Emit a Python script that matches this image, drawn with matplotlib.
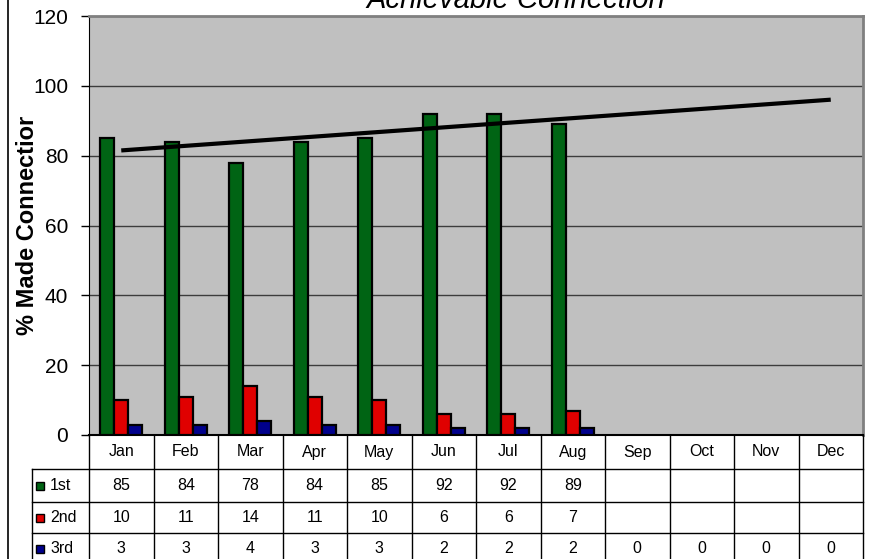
import numpy as np
import matplotlib
matplotlib.use("Agg")
import matplotlib.pyplot as plt
from matplotlib.lines import Line2D
from matplotlib.patches import Rectangle

plt.rcParams['font.family'] = ['Liberation Sans', 'DejaVu Sans']

# data
months = ["Jan", "Feb", "Mar", "Apr", "May", "Jun", "Jul", "Aug", "Sep", "Oct", "Nov", "Dec"]
first = [85, 84, 78, 84, 85, 92, 92, 89, None, None, None, None]
second = [10, 11, 14, 11, 10, 6, 6, 7, None, None, None, None]
third = [3, 3, 4, 3, 3, 2, 2, 2, 0, 0, 0, 0]
series_names = ["1st", "2nd", "3rd"]
series_colors = ["#006414", "#e00000", "#00008c"]
yticks = [0, 20, 40, 60, 80, 100, 120]

W, H = 870, 559
fig = plt.figure(figsize=(W / 100, H / 100), dpi=100)

# main plot area (pixel box 89..863 x 16..435)
ax = fig.add_axes([89 / W, 1 - 435 / H, (863 - 89) / W, (435 - 16) / H])
ax.set_facecolor("#c0c0c0")
x = np.arange(len(months))
bw = 0.217
all_series = [first, second, third]
for i, vals in enumerate(all_series):
    xs = [x[j] + (i - 1) * bw for j in range(len(vals)) if vals[j] is not None and vals[j] > 0]
    hs = [v for v in vals if v is not None and v > 0]
    ax.bar(xs, hs, width=bw, color=series_colors[i], edgecolor="black", linewidth=1.6, zorder=3)

# linear trend of the 1st series, extended to December
known = [(j, v) for j, v in enumerate(first) if v is not None]
kx = np.array([k[0] for k in known])
ky = np.array([k[1] for k in known])
slope, icpt = np.polyfit(kx, ky, 1)
ax.plot([x[0], x[-1]], [icpt + slope * x[0], icpt + slope * x[-1]], color="black", lw=3, zorder=4,
        solid_capstyle="butt")

ax.set_xlim(-0.5, 11.5)
ax.set_ylim(0, 120)
ax.set_yticks(yticks)
ax.yaxis.grid(True, color="#3c3c3c", lw=1)
ax.set_axisbelow(True)
ax.set_xticks([])
ax.tick_params(axis="y", direction="out", length=6, width=1, pad=9, labelsize=15)
ax.spines["top"].set_color("#808080")
ax.spines["top"].set_linewidth(2)
ax.spines["right"].set_color("#808080")
ax.spines["right"].set_linewidth(2)
ax.spines["left"].set_color("black")
ax.spines["bottom"].set_color("black")
ax.spines["bottom"].set_linewidth(1.5)
ax.set_ylabel("% Made Connectior", fontsize=17, fontweight="bold")
ax.yaxis.set_label_coords(-0.064, 0.5)

# title, cut off at the top of the picture
fig.text(516 / W, 1 - 8 / H, "Achievable Connection", fontsize=21, style="italic",
         ha="center", va="baseline")

# data table under the plot
tax = fig.add_axes([32 / W, 0, (863 - 32) / W, (559 - 435) / H])
lab_w = 57 / 64.5
tax.set_xlim(-0.5 - lab_w, 11.5)
tax.set_ylim(124, 0)
tax.axis("off")
row_edges = [0, 34, 67, 98, 129]
fs = 11.5
for j, m in enumerate(months):
    tax.text(x[j], (row_edges[0] + row_edges[1]) / 2, m, ha="center", va="center", fontsize=fs)
for i, vals in enumerate(all_series):
    yc = (row_edges[i + 1] + row_edges[i + 2]) / 2
    for j, v in enumerate(vals):
        if v is not None:
            tax.text(x[j], yc, str(v), ha="center", va="center", fontsize=fs)
    tax.add_patch(Rectangle((-0.5 - lab_w + 4 / 64.5, yc - 4), 8 / 64.5, 8,
                            facecolor=series_colors[i], edgecolor="black", lw=1, clip_on=False))
    tax.text(-0.5 - lab_w + 18 / 64.5, yc, series_names[i], ha="left", va="center", fontsize=fs)

lk = dict(color="black", lw=1, clip_on=False)
for e in row_edges[1:4]:
    tax.add_line(Line2D([-0.5 - lab_w, 11.5], [e, e], **lk))
for k in range(13):
    tax.add_line(Line2D([k - 0.5, k - 0.5], [0, 129], **lk))
tax.add_line(Line2D([-0.5 - lab_w, -0.5 - lab_w], [row_edges[1], 129], **lk))

# left border of the picture
fig.add_artist(Line2D([8 / W, 8 / W], [0, 1], color="black", lw=1.2))

fig.savefig("out.png", dpi=100)
